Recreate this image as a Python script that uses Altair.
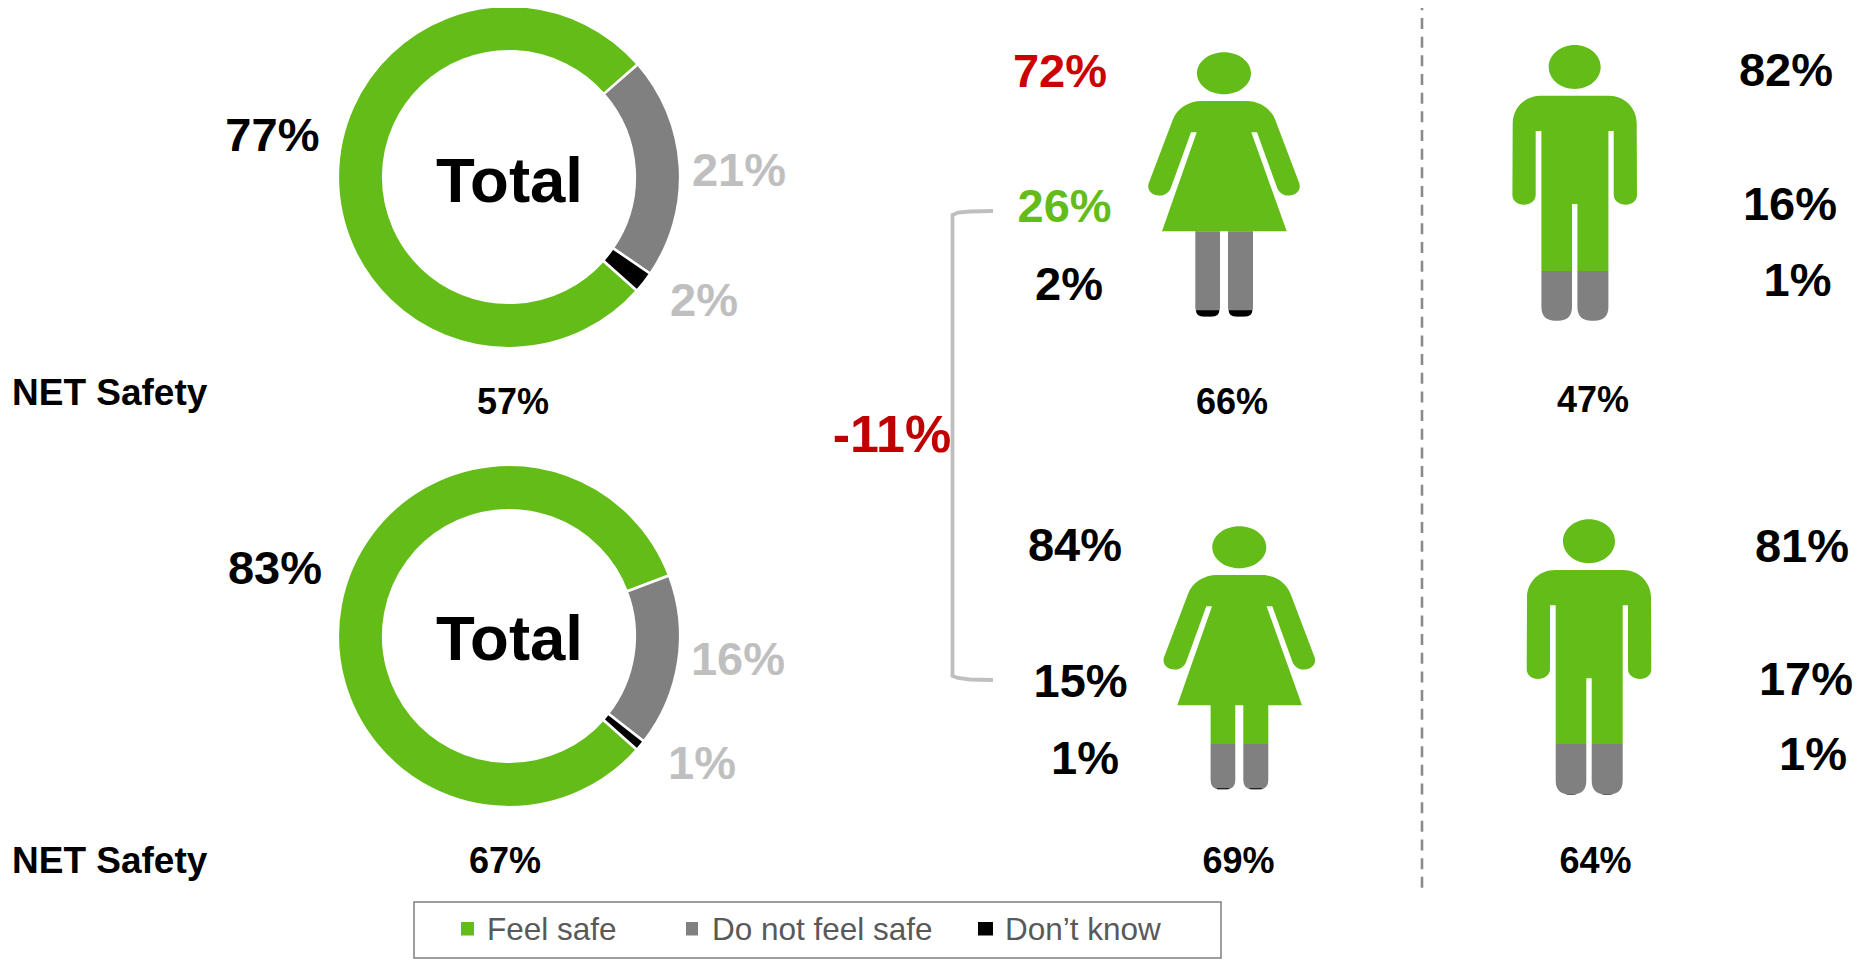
import altair as alt
import pandas as pd
import math

# ---------- values ----------
SEGMENTS = ["Feel safe", "Do not feel safe", "Don\u2019t know"]
DONUT_TOP = [77, 21, 2]
DONUT_BOTTOM = [82.7, 16.3, 1]
DONUT_TOP_LABELS = ["77%", "21%", "2%"]
DONUT_BOTTOM_LABELS = ["83%", "16%", "1%"]
NET_TOTAL = ["57%", "67%"]
WOMAN_TOP = ["72%", "26%", "2%"]
WOMAN_BOTTOM = ["84%", "15%", "1%"]
MAN_TOP = ["82%", "16%", "1%"]
MAN_BOTTOM = ["81%", "17%", "1%"]
NET_GENDER = ["66%", "69%", "47%", "64%"]
DIFF_LABEL = "-11%"
NET_LABEL = "NET Safety"
CENTER_LABEL = "Total"

# ---------- styles and layout ----------
GREEN, GREY, BLACK = "#63BC18", "#808080", "#000000"
LIGHT, RED, DARK_RED = "#BFBFBF", "#CC0000", "#C00000"
FONT = "Liberation Sans"
W, H = 1853, 951
xs = alt.Scale(domain=[8, 8 + W], nice=False, zero=False)
ys = alt.Scale(domain=[8, 8 + H], nice=False, zero=False, reverse=True)
X = lambda f="x": alt.X(f"{f}:Q", scale=xs, axis=None)
Y = lambda f="y": alt.Y(f"{f}:Q", scale=ys, axis=None)
X2 = lambda f: alt.X2(f"{f}:Q")
Y2 = lambda f: alt.Y2(f"{f}:Q")
layers = []


# ---------- donuts ----------
START = 131.6 * math.pi / 180
rows = []
for cx, cy, vals in [(509, 177, DONUT_TOP), (509, 636, DONUT_BOTTOM)]:
    acc = 0
    for seg, v, c in zip(SEGMENTS, vals, [GREEN, GREY, BLACK]):
        rows.append(dict(cx=cx, cy=cy, seg=seg, start=acc, end=acc + v, fill=c))
        acc += v
layers.append(
    alt.Chart(pd.DataFrame(rows))
    .mark_arc(radius=171.2, radius2=125.8, stroke="white", strokeWidth=2.6)
    .encode(
        x=X("cx"), y=Y("cy"),
        theta=alt.Theta("start:Q", scale=alt.Scale(domain=[0, 100], range=[START, START + 2 * math.pi])),
        theta2="end:Q",
        color=alt.Color("fill:N", scale=None),
    )
)


# ---------- pictograms ----------
S = 150.0  # path unit in pixels
K = 0.5523


def fmt(v):
    return f"{v / S:.4f}"


def P(cmd, *pts):
    return cmd + " ".join(f"{fmt(a)} {fmt(b)}" for a, b in pts)


def ellipse(cy, rx, ry):
    kx, ky = K * rx, K * ry
    return (P("M", (-rx, cy)) + P("C", (-rx, cy - ky), (-kx, cy - ry), (0, cy - ry))
            + P("C", (kx, cy - ry), (rx, cy - ky), (rx, cy))
            + P("C", (rx, cy + ky), (kx, cy + ry), (0, cy + ry))
            + P("C", (-kx, cy + ry), (-rx, cy + ky), (-rx, cy)) + "Z")


def leg_lower(x0, x1, top, bottom, r):
    """leg segment with rounded lower corners"""
    return (P("M", (x0, top)) + P("L", (x1, top)) + P("L", (x1, bottom - r))
            + P("Q", (x1, bottom), (x1 - r, bottom)) + P("L", (x0 + r, bottom))
            + P("Q", (x0, bottom), (x0, bottom - r)) + "Z")


def cap(x0, x1, top, bottom, r):
    """only the rounded foot of a leg"""
    ins = r * max(0.0, 1 - (bottom - top) / r) ** 2 if bottom - top < r else 0
    return (P("M", (x0 + ins, top)) + P("L", (x1 - ins, top))
            + P("Q", (x1 - ins * 0.5, bottom), (x1 - r, bottom)) + P("L", (x0 + r, bottom))
            + P("Q", (x0 + ins * 0.5, bottom), (x0 + ins, top)) + "Z")


def woman_upper(split):
    O = -132.0
    def p(x, y):
        return (x, y + O)
    d = ellipse(21 + O, 27, 21)
    d += P("M", p(-22.5, 48.7)) + P("L", p(22.5, 48.7))
    d += P("C", p(35, 48.7), p(47, 56), p(51.3, 67.7)) + P("L", p(75.3, 131))
    d += P("C", p(77.5, 138), p(72, 143.5), p(64.7, 143.3))
    d += P("C", p(59, 143.5), p(55, 140), p(53.3, 136)) + P("L", p(33, 80)) + P("L", p(27.3, 80))
    d += P("L", p(62.7, 179))
    if split > 179:
        d += P("L", p(29, 179)) + P("L", p(29, split)) + P("L", p(4, split)) + P("L", p(4, 179))
        d += P("L", p(-4, 179)) + P("L", p(-4, split)) + P("L", p(-28.7, split)) + P("L", p(-28.7, 179))
    d += P("L", p(-62, 179)) + P("L", p(-27.3, 80)) + P("L", p(-33, 80)) + P("L", p(-53.3, 136))
    d += P("C", p(-55, 140), p(-59, 143.5), p(-64.7, 143.3))
    d += P("C", p(-72, 143.5), p(-77.5, 138), p(-75.3, 131)) + P("L", p(-51.3, 67.7))
    d += P("C", p(-47, 56), p(-35, 48.7), p(-22.5, 48.7)) + "Z"
    return d


def man_upper(split):
    O = -138.0
    def p(x, y):
        return (x, y + O)
    d = ellipse(22 + O, 26, 22)
    d += P("M", p(-34, 50.7)) + P("L", p(34, 50.7))
    d += P("C", p(50, 50.7), p(62, 63), p(62, 78.3)) + P("L", p(62.3, 150))
    d += P("C", p(62.3, 156), p(57, 159.7), p(51, 159.7))
    d += P("C", p(45, 159.7), p(39, 156), p(39, 150)) + P("L", p(39, 86)) + P("L", p(33.7, 86))
    d += P("L", p(33.7, split)) + P("L", p(2.7, split)) + P("L", p(2.7, 159)) + P("L", p(-2.7, 159))
    d += P("L", p(-2.7, split)) + P("L", p(-33.3, split)) + P("L", p(-33.3, 86)) + P("L", p(-39, 86))
    d += P("L", p(-39, 150)) + P("C", p(-39, 156), p(-45, 159.7), p(-51, 159.7))
    d += P("C", p(-57, 159.7), p(-62.3, 156), p(-62.3, 150)) + P("L", p(-62, 78.3))
    d += P("C", p(-62, 63), p(-50, 50.7), p(-34, 50.7)) + "Z"
    return d


def pair(O, legs, top, bottom, r, fn=leg_lower):
    out = ""
    for x0, x1 in legs:
        out += fn(x0, x1, top + O, bottom + O, r)
    return out


W_LEGS = [(-28.7, -4), (4, 29)]
M_LEGS = [(-33.3, -2.7), (2.7, 33.7)]
figs = []
figs += [(1224, 52.3 + 132, woman_upper(179), GREEN),
         (1224, 52.3 + 132, pair(-132, W_LEGS, 179, 264.3, 9), GREY),
         (1224, 52.3 + 132, pair(-132, W_LEGS, 258, 264.3, 9, cap), BLACK)]
figs += [(1239.3, 526.3 + 132, woman_upper(217.7), GREEN),
         (1239.3, 526.3 + 132, pair(-132, W_LEGS, 217.7, 263, 9), GREY),
         (1239.3, 526.3 + 132, pair(-132, W_LEGS, 262, 263, 9, cap), BLACK)]
figs += [(1574.7, 45 + 138, man_upper(226), GREEN),
         (1574.7, 45 + 138, pair(-138, M_LEGS, 226, 275.7, 14), GREY)]
figs += [(1589, 519.3 + 138, man_upper(224.7), GREEN),
         (1589, 519.3 + 138, pair(-138, M_LEGS, 224.7, 275.3, 14), GREY),
         (1589, 519.3 + 138, pair(-138, M_LEGS, 274.6, 275.3, 14, cap), BLACK)]
for fx, fy, path, col in figs:
    layers.append(
        alt.Chart(pd.DataFrame({"x": [fx], "y": [fy]}))
        .mark_point(shape=path, filled=True, fill=col, opacity=1, strokeWidth=0, size=(2 * S) ** 2)
        .encode(x=X(), y=Y())
    )


# ---------- lines ----------
def line(xv, yv, color, width, **extra):
    df = pd.DataFrame({"x": xv, "y": yv, "o": range(len(xv))})
    return alt.Chart(df).mark_line(color=color, strokeWidth=width, **extra).encode(x=X(), y=Y(), order="o:Q")


layers.append(line([1422, 1422], [8, 888], "#8A8A8A", 2.6, strokeDash=[11, 7.67], strokeDashOffset=8.67))
layers.append(line([993, 970, 958, 952.5, 952.5, 958, 970, 993],
                   [211, 211.5, 212.5, 215, 676, 678, 679.5, 680], LIGHT, 3.8))


# ---------- legend ----------
layers.append(
    alt.Chart(pd.DataFrame({"x": [414], "x2": [1221], "y": [902], "y2": [958]}))
    .mark_rect(fillOpacity=0, stroke="#7F7F7F", strokeWidth=1.5)
    .encode(x=X(), x2=X2("x2"), y=Y(), y2=Y2("y2"))
)
leg = pd.DataFrame({"x": [461, 686, 978], "x2": [474, 698, 993], "fill": [GREEN, GREY, BLACK]})
layers.append(
    alt.Chart(leg.assign(y=922, y2=935.5))
    .mark_rect()
    .encode(x=X(), x2=X2("x2"), y=Y(), y2=Y2("y2"), color=alt.Color("fill:N", scale=None))
)


# ---------- text ----------
def text_layer(items, size, weight="bold", align="center"):
    df = pd.DataFrame(items, columns=["t", "x", "y", "c"])
    return (
        alt.Chart(df)
        .mark_text(font=FONT, fontWeight=weight, fontSize=size, align=align, baseline="alphabetic")
        .encode(x=X(), y=Y(), text="t:N", color=alt.Color("c:N", scale=None))
    )


k = "#000000"
layers.append(text_layer([
    (DONUT_TOP_LABELS[0], 272.4, 151, k),
    (DONUT_TOP_LABELS[1], 739, 186, LIGHT),
    (DONUT_TOP_LABELS[2], 704, 316, LIGHT),
    (DONUT_BOTTOM_LABELS[0], 275, 584, k),
    (DONUT_BOTTOM_LABELS[1], 738, 675, LIGHT),
    (DONUT_BOTTOM_LABELS[2], 702, 779, LIGHT),
    (WOMAN_TOP[0], 1060, 86.5, RED),
    (WOMAN_TOP[1], 1064.6, 222, GREEN),
    (WOMAN_TOP[2], 1069, 299.5, k),
    (WOMAN_BOTTOM[0], 1075, 561, k),
    (WOMAN_BOTTOM[1], 1080.6, 697, k),
    (WOMAN_BOTTOM[2], 1085, 774, k),
    (MAN_TOP[0], 1786, 86, k),
    (MAN_TOP[1], 1790, 220, k),
    (MAN_TOP[2], 1797.5, 295.5, k),
    (MAN_BOTTOM[0], 1802, 562, k),
    (MAN_BOTTOM[1], 1806, 695, k),
    (MAN_BOTTOM[2], 1813, 770, k),
], 47))
layers.append(text_layer([
    (NET_TOTAL[0], 513, 414, k), (NET_TOTAL[1], 505, 873, k),
    (NET_GENDER[0], 1232, 414, k), (NET_GENDER[1], 1238.5, 873, k),
    (NET_GENDER[2], 1593, 412, k), (NET_GENDER[3], 1595.6, 873, k),
], 36))
layers.append(text_layer([(NET_LABEL, 12, 405, k), (NET_LABEL, 12, 873, k)], 37, align="left"))
layers.append(text_layer([(CENTER_LABEL, 509.5, 202, k), (CENTER_LABEL, 509.5, 660, k)], 63.5))
layers.append(text_layer([(DIFF_LABEL, 892, 452, DARK_RED)], 52))
layers.append(text_layer([
    (SEGMENTS[0], 487, 940, "#595959"),
    (SEGMENTS[1], 712, 940, "#595959"),
    (SEGMENTS[2], 1005, 940, "#595959"),
], 31.5, weight="normal", align="left"))

chart = (
    alt.layer(*layers)
    .properties(width=W, height=H, padding=0, autosize=alt.AutoSizeParams(type="none"), background="white")
    .configure_view(stroke=None)
)
chart.save("out.html", embed_options={"renderer": "svg", "actions": False})
